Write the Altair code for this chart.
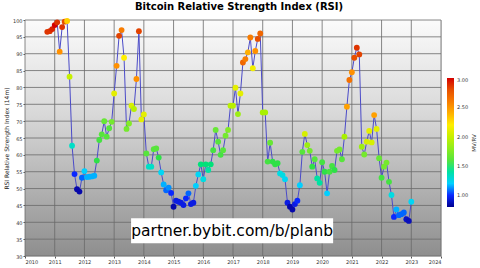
import altair as alt
import pandas as pd

# Monthly RSI (14m) from Oct 2010 to Jan 2023
rsi = [96.5, 96.7, 97.3, 98.5, 99.3, 90.6, 97.9, 99.5, 99.7, 83.2,
       62.7, 54.3, 49.8, 49.1, 53.2, 55.2, 53.4, 53.5, 53.6, 53.8,
       58.3, 64.4, 66.1, 70.0, 65.4, 67.9, 69.8, 78.2, 86.4, 95.3,
       97.0, 88.8, 67.7, 69.3, 74.6, 73.6, 82.5, 96.7, 70.5, 72.0,
       60.4, 56.5, 56.5, 61.7, 61.9, 59.2, 54.8, 51.2, 49.5, 50.3,
       48.7, 44.6, 46.4, 46.1, 45.8, 45.1, 47.1, 48.6, 45.4, 45.8,
       50.8, 54.2, 57.2, 52.8, 57.2, 55.5, 57.2, 61.4, 67.4, 63.9,
       60.0, 61.4, 65.7, 67.4, 74.6, 74.6, 79.9, 72.1, 78.2, 87.4,
       88.4, 90.4, 94.8, 85.7, 90.8, 94.4, 96.0, 72.6, 72.6, 58.0,
       63.6, 58.0, 57.2, 57.5, 54.5, 54.0, 52.8, 45.8, 44.6, 43.8,
       45.4, 46.4, 51.0, 60.9, 66.2, 62.9, 61.2, 56.5, 58.7, 53.0,
       51.7, 57.8, 55.0, 48.6, 55.0, 56.7, 55.5, 61.2, 61.6, 58.7,
       65.4, 74.3, 82.2, 84.5, 88.8, 91.8, 89.8, 62.4, 60.1, 63.9,
       67.1, 63.7, 71.8, 67.7, 59.0, 53.2, 56.5, 57.7, 52.0, 48.1,
       41.6, 43.8, 42.1, 42.4, 42.9, 40.9, 40.4, 46.1]

# MV/RV value behind each point's colour
mvrv = [2.9, 2.9, 2.95, 3.0, 2.9, 2.5, 2.9, 2.8, 2.3, 2.0,
        1.35, 1.0, 0.85, 0.85, 1.05, 1.2, 1.15, 1.15, 1.15, 1.15,
        1.5, 1.55, 1.6, 1.65, 1.6, 1.6, 1.7, 2.1, 2.5, 2.85,
        2.6, 2.2, 1.7, 1.75, 2.05, 1.95, 2.5, 2.85, 2.1, 2.1,
        1.6, 1.35, 1.35, 1.6, 1.6, 1.5, 1.25, 1.15, 1.05, 1.1,
        1.0, 0.85, 0.95, 0.95, 0.95, 0.95, 1.0, 1.05, 0.95, 0.95,
        1.2, 1.25, 1.45, 1.3, 1.45, 1.4, 1.45, 1.55, 1.65, 1.6,
        1.55, 1.6, 1.7, 1.75, 1.95, 1.95, 2.1, 1.85, 2.1, 2.7,
        2.6, 2.4, 2.6, 2.15, 2.5, 2.8, 2.7, 1.9, 1.9, 1.55,
        1.65, 1.5, 1.5, 1.5, 1.3, 1.3, 1.25, 0.95, 0.85, 0.85,
        0.95, 1.0, 1.2, 1.6, 2.05, 1.85, 1.7, 1.5, 1.6, 1.4,
        1.4, 1.55, 1.5, 1.2, 1.55, 1.55, 1.5, 1.7, 1.7, 1.6,
        1.9, 2.45, 2.65, 2.5, 2.8, 2.9, 2.85, 1.85, 1.7, 2.05,
        2.1, 2.05, 2.45, 2.1, 1.65, 1.55, 1.7, 1.7, 1.55, 1.3,
        1.0, 1.15, 1.05, 1.05, 1.05, 0.9, 0.88, 1.25]

months = pd.date_range("2010-10-01", periods=len(rsi), freq="MS")
year_ticks = list(range(2010, 2025))
rsi_ticks = list(range(30, 101, 5))
cbar_ticks = [1.0, 1.5, 2.0, 2.5, 3.0]
cmap_domain = [0.8, 1.0, 1.2, 1.5, 1.9, 2.2, 2.5, 3.0]
cmap_colors = ["#00008f", "#0a28ff", "#00d0ff", "#2ee048", "#a8f000",
               "#ffee00", "#ff9000", "#d40000"]

df = pd.DataFrame({
    "t": [d.year + (d.month - 1) / 12 for d in months],
    "rsi": rsi,
    "mvrv": mvrv,
})

FONT = "DejaVu Sans"
x_scale = alt.Scale(domain=[2010, 2024], nice=False, zero=False)
y_scale = alt.Scale(domain=[30, 100], nice=False, zero=False)
x_axis = alt.Axis(values=year_ticks, format="d", grid=False, domain=False,
                  labelFontSize=5, labelFont=FONT, labelColor="#333333",
                  tickSize=2, tickColor="#555555", labelPadding=1, title=None)
y_axis = alt.Axis(values=rsi_ticks, format="d", grid=False, domain=False,
                  labelFontSize=5, labelFont=FONT, labelColor="#333333",
                  tickSize=2, tickColor="#555555", labelPadding=1,
                  title="RSI Relative Strength Index (14m)", titleFontSize=6,
                  titleFont=FONT, titleFontWeight="normal", titleColor="#222222",
                  titlePadding=3)


def X(field):
    return alt.X(f"{field}:Q", scale=x_scale, axis=x_axis)


def Y(field):
    return alt.Y(f"{field}:Q", scale=y_scale, axis=y_axis)


bg = alt.Chart(pd.DataFrame({"x0": [2010], "x1": [2024], "y0": [100], "y1": [30]})).mark_rect(
    fill=alt.Gradient(gradient="linear", x1=0, x2=0, y1=0, y2=1,
                      stops=[alt.GradientStop(color="#fbfbfb", offset=0),
                             alt.GradientStop(color="#d8d8d8", offset=0.4),
                             alt.GradientStop(color="#8e8e8e", offset=1)])
).encode(x=X("x0"), x2="x1", y=Y("y0"), y2="y1")

vgrid = alt.Chart(pd.DataFrame({"yr": year_ticks})).mark_rule(
    color="#6a6a6a", strokeWidth=0.8).encode(x=X("yr"))
hgrid = alt.Chart(pd.DataFrame({"v": rsi_ticks})).mark_rule(
    color="#6a6a6a", strokeWidth=0.8).encode(y=Y("v"))

line = alt.Chart(df).mark_line(color="#4b4bc8", strokeWidth=1).encode(x=X("t"), y=Y("rsi"))

points = alt.Chart(df).mark_circle(size=34, opacity=1).encode(
    x=X("t"), y=Y("rsi"),
    color=alt.Color("mvrv:Q",
                    scale=alt.Scale(domain=cmap_domain, range=cmap_colors),
                    legend=alt.Legend(title=None, orient="none", legendX=422, legendY=58,
                                      direction="vertical", gradientLength=129,
                                      gradientThickness=7, values=cbar_ticks, format=".2f",
                                      labelFontSize=5, labelFont=FONT, labelColor="#333333",
                                      labelOffset=3, padding=0, gradientStrokeWidth=0)),
)

cbar_title = alt.Chart(pd.DataFrame({"label": ["MV/RV"]})).mark_text(
    fontSize=5.5, font=FONT, color="#333333", angle=270, align="center", baseline="middle"
).encode(x=alt.value(449), y=alt.value(123), text="label:N")

wm = pd.DataFrame({"x0": [2013.57], "x1": [2020.37], "y0": [41.2], "y1": [33.8],
                   "xc": [2016.97], "yc": [37.5], "label": ["partner.bybit.com/b/planb"]})
wm_box = alt.Chart(wm).mark_rect(fill="white").encode(x=X("x0"), x2="x1", y=Y("y0"), y2="y1")
wm_text = alt.Chart(wm).mark_text(fontSize=15.5, font=FONT, color="black").encode(
    x=X("xc"), y=Y("yc"), text="label:N")

chart = alt.layer(bg, vgrid, hgrid, line, points, wm_box, wm_text, cbar_title).properties(
    width=416, height=236,
    autosize=alt.AutoSizeParams(type="none"),
    padding={"left": 25, "top": 20, "right": 39, "bottom": 12},
    title=alt.TitleParams("Bitcoin Relative Strength Index (RSI)", fontSize=10, font=FONT,
                          fontWeight="bold", anchor="middle", offset=6, dx=6, color="black"),
).configure_view(stroke="#8a8a8a", strokeWidth=0.8).configure(background="white")

chart.save("out.html", embed_options={"renderer": "svg", "actions": False})
